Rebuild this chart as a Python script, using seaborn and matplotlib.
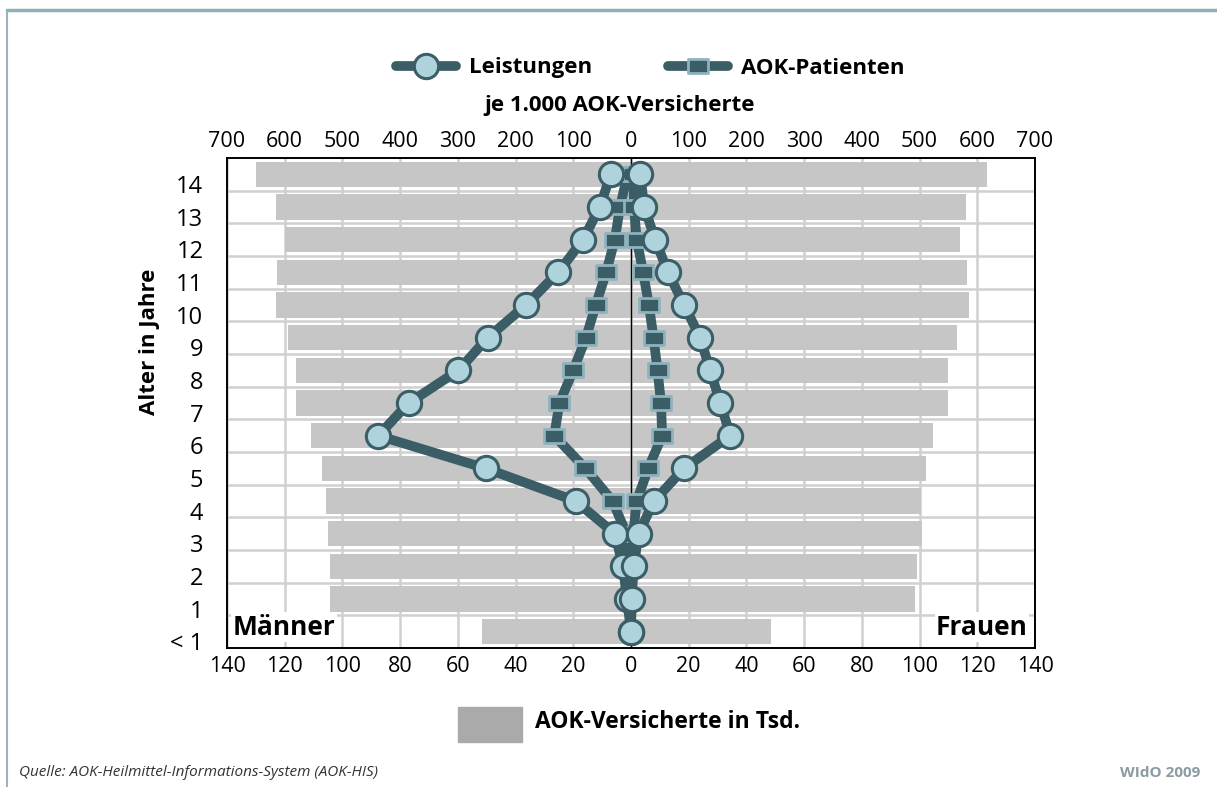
import numpy as np
import pandas as pd
import matplotlib
matplotlib.use("Agg")
import matplotlib.pyplot as plt
import seaborn as sns
from matplotlib.lines import Line2D
from matplotlib.patches import Rectangle
from matplotlib.path import Path

# Altersgruppen (<1 .. 14)
age_labels = ["< 1", "1", "2", "3", "4", "5", "6", "7", "8", "9", "10", "11", "12", "13", "14"]

# AOK-Versicherte in Tsd.
versicherte_m = [51.6, 104.3, 104.3, 105.0, 105.7, 107.0, 111.0, 116.0, 116.0, 119.0, 123.0, 122.7, 120.0, 123.0, 130.0]
versicherte_w = [48.4, 98.3, 99.0, 100.8, 100.4, 102.1, 104.5, 109.8, 109.8, 113.0, 117.1, 116.3, 114.0, 116.0, 123.2]

# je 1.000 AOK-Versicherte
leistungen_m = [0, 7, 14, 28, 96, 252, 438, 385, 299, 248, 182, 126, 83, 54, 35]
leistungen_w = [0, 1, 5, 13, 40, 92, 172, 155, 137, 120, 92, 64, 42, 23, 16]
patienten_m = [1, 2, 4, 8, 32, 79, 133, 124, 100, 78, 61, 43, 28, 19, 6]
patienten_w = [0, 1, 2, 4, 10, 30, 54, 52, 46, 39, 31, 21, 10, 5, 4]

dark = "#3b5d66"
light = "#afd3dc"
sq_edge = "#8fb3bd"
bar_grey = "#c6c6c6"

sns.set_theme(style="white")
plt.rcParams["font.family"] = ["Open Sans", "DejaVu Sans"]
plt.rcParams["text.color"] = "black"

ages = np.arange(len(age_labels))

fig = plt.figure(figsize=(12.17, 7.87), dpi=100)
ax = fig.add_axes([227 / 1217, 1 - 648 / 787, 808 / 1217, 490 / 787])

# Balken: Versicherte
sns.barplot(x=-np.array(versicherte_m), y=ages, orient="h", native_scale=True,
            color=bar_grey, saturation=1, width=0.78, errorbar=None, linewidth=0, ax=ax)
sns.barplot(x=np.array(versicherte_w), y=ages, orient="h", native_scale=True,
            color=bar_grey, saturation=1, width=0.78, errorbar=None, linewidth=0, ax=ax)

ax.set_xlim(-140, 140)
ax.set_ylim(-0.5, 14.5)
ax.set_axisbelow(True)
xt = np.arange(-140, 141, 20)
ax.set_xticks(xt, [str(abs(v)) for v in xt])
ax.set_yticks(ages - 0.3, age_labels)
ax.set_yticks(np.arange(0.5, 14, 1), minor=True)
ax.grid(False)
ax.grid(True, which="major", axis="x", color="#d0d0d0", lw=1.8)
ax.grid(True, which="minor", axis="y", color="#d0d0d0", lw=1.8)
ax.tick_params(axis="both", which="both", length=0, labelsize=15.5, colors="black")
ax.tick_params(axis="x", pad=6)
ax.tick_params(axis="y", pad=17, labelsize=17)
for s in ax.spines.values():
    s.set_visible(True)
    s.set_color("black")
    s.set_linewidth(1.4)
ax.axvline(0, color="black", lw=1, zorder=2.5)
ax.set_xlabel("")
ax.set_ylabel("")

# Linien: Leistungen und Patienten je 1.000 Versicherte
ax2 = ax.twiny()
ax2.set_xlim(-700, 700)
ax2.grid(False)
for s in ax2.spines.values():
    s.set_visible(False)
xt2 = np.arange(-700, 701, 100)
ax2.set_xticks(xt2, [str(abs(v)) for v in xt2])
ax2.tick_params(axis="x", length=0, labelsize=15.5, pad=4, colors="black")

rect = Path([(-1.5, -1), (1.5, -1), (1.5, 1), (-1.5, 1), (-1.5, -1)],
            [Path.MOVETO, Path.LINETO, Path.LINETO, Path.LINETO, Path.CLOSEPOLY])

sq_kw = dict(color=dark, lw=7, marker=rect, ms=15, mfc=dark, mec=sq_edge, mew=2,
             sort=False, estimator=None, ax=ax2)
ci_kw = dict(color=dark, lw=7, marker="o", ms=17.5, mfc=light, mec=dark, mew=2.2,
             sort=False, estimator=None, ax=ax2)
sns.lineplot(x=-np.array(patienten_m), y=ages, **sq_kw)
sns.lineplot(x=np.array(patienten_w), y=ages, **sq_kw)
sns.lineplot(x=-np.array(leistungen_m), y=ages, **ci_kw)
sns.lineplot(x=np.array(leistungen_w), y=ages, **ci_kw)
ax2.set_ylim(-0.5, 14.5)
ax2.set_xlabel("")
ax2.set_ylabel("")

ax.text(-138, 0.14, "Männer", ha="left", va="center", fontsize=19, weight="bold",
        bbox=dict(facecolor="white", edgecolor="none", pad=1), zorder=6)
ax.text(137.5, 0.14, "Frauen", ha="right", va="center", fontsize=19, weight="bold",
        bbox=dict(facecolor="white", edgecolor="none", pad=1), zorder=6)

# Legende oben
h1 = Line2D([], [], color=dark, lw=7, marker="o", ms=17.5, mfc=light, mec=dark, mew=2.2,
            solid_capstyle="round")
h2 = Line2D([], [], color=dark, lw=7, marker=rect, ms=15, mfc=dark, mec=sq_edge, mew=2,
            solid_capstyle="round")
fig.legend([h1, h2], ["Leistungen", "AOK-Patienten"], loc="center",
           bbox_to_anchor=(650 / 1217, 1 - 68 / 787), ncol=2, frameon=False,
           handlelength=2.7, columnspacing=3.4, handletextpad=0.6,
           prop={"weight": "bold", "size": 16})

fig.text(620 / 1217, 1 - 106 / 787, "je 1.000 AOK-Versicherte", ha="center", va="center",
         fontsize=16, weight="bold")
fig.text(150 / 1217, 1 - 342 / 787, "Alter in Jahre", ha="center", va="center",
         rotation=90, fontsize=16, weight="bold")

# Legende unten
fig.add_artist(Rectangle((458 / 1217, 1 - 742 / 787), 64 / 1217, 35 / 787,
                         transform=fig.transFigure, color="#aaaaaa"))
fig.text(535 / 1217, 1 - 722 / 787, "AOK-Versicherte in Tsd.", ha="left", va="center",
         fontsize=16.5, weight="bold")

fig.text(19 / 1217, 1 - 773 / 787, "Quelle: AOK-Heilmittel-Informations-System (AOK-HIS)",
         ha="left", va="center", fontsize=11, style="italic", color="#333333")
fig.text(1200 / 1217, 1 - 773 / 787, "WIdO 2009", ha="right", va="center",
         fontsize=11, weight="bold", color="#8a9ba2")

# Rahmenlinien
fig.add_artist(Line2D([7 / 1217, 7 / 1217], [0, 1 - 10 / 787], color="#9ab5bd", lw=1.5))
fig.add_artist(Line2D([7 / 1217, 1], [1 - 10 / 787, 1 - 10 / 787], color="#8fb0b8", lw=2.5))

fig.savefig("out.png", dpi=100)
